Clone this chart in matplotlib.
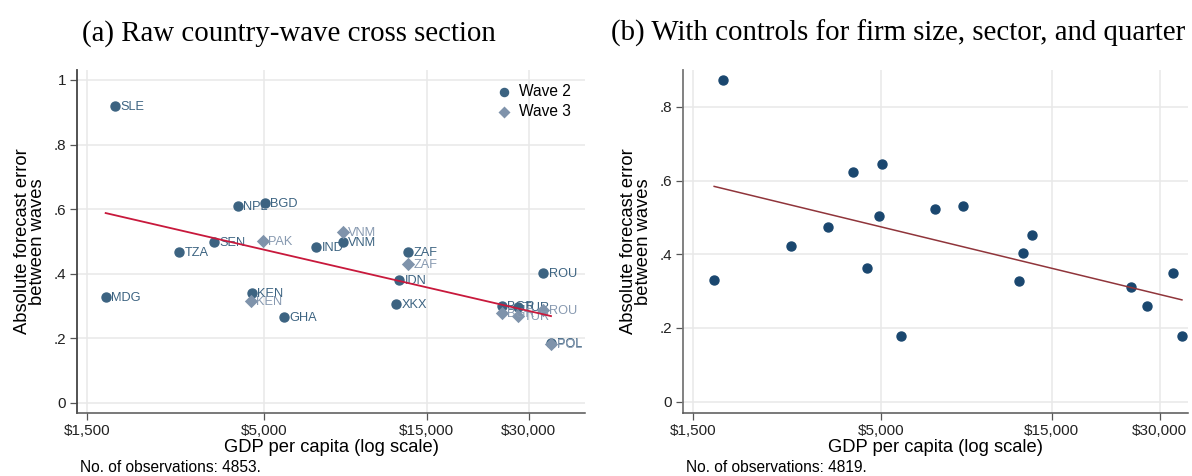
import numpy as np
import matplotlib.pyplot as plt
from matplotlib.ticker import FixedLocator, NullLocator

# wave 2 country-wave means
countries_w2 = ["SLE", "MDG", "TZA", "SEN", "NPL", "BGD", "KEN", "GHA", "IND",
                "VNM", "ZAF", "IDN", "XKX", "BGR", "TUR", "ROU", "POL"]
gdp_w2 = [1814, 1706, 2799, 3546, 4176, 5014, 4591, 5703, 7087,
          8510, 13215, 12433, 12186, 24995, 27870, 33030, 34860]
err_w2 = [0.919, 0.328, 0.467, 0.498, 0.610, 0.619, 0.341, 0.266, 0.483,
          0.498, 0.467, 0.381, 0.306, 0.300, 0.297, 0.402, 0.186]

# wave 3 country-wave means
countries_w3 = ["PAK", "KEN", "VNM", "ZAF", "BGR", "TUR", "ROU", "POL"]
gdp_w3 = [4945, 4560, 8510, 13215, 24995, 27870, 33030, 34860]
err_w3 = [0.502, 0.316, 0.529, 0.430, 0.279, 0.269, 0.288, 0.183]

# country means net of firm size, sector and quarter
gdp_b = [1716, 1819, 2814, 3567, 4189, 5046, 4950, 4584, 5700,
         7090, 8490, 13215, 12473, 12154, 24930, 27645, 32680, 34610]
err_b = [0.330, 0.873, 0.422, 0.473, 0.624, 0.646, 0.503, 0.362, 0.178,
         0.522, 0.532, 0.451, 0.403, 0.327, 0.311, 0.259, 0.349, 0.178]

# linear fits on log GDP, evaluated at the ends of the data
fit_a_x = [1706, 34860]
fit_a_y = [0.588, 0.269]
fit_b_x = [1716, 34610]
fit_b_y = [0.584, 0.276]

xticks = [1500, 5000, 15000, 30000]
xticklabels = ["$1,500", "$5,000", "$15,000", "$30,000"]
yticks_a = [0, 0.2, 0.4, 0.6, 0.8, 1.0]
yticklabels_a = ["0", ".2", ".4", ".6", ".8", "1"]
yticks_b = [0, 0.2, 0.4, 0.6, 0.8]
yticklabels_b = ["0", ".2", ".4", ".6", ".8"]

c_w2 = "#3c6381"
c_w3 = "#7f93ab"
c_w3_txt = "#8799b0"
c_b = "#1a476f"

plt.rcParams['font.family'] = ['Liberation Sans', 'DejaVu Sans']


def style_axes(ax, xmax, ymax, yticks, yticklabels, spine_col):
    ax.set_xscale("log")
    ax.set_xlim(1405, xmax)
    ax.set_ylim(-0.031, ymax)
    ax.xaxis.set_major_locator(FixedLocator(xticks))
    ax.xaxis.set_minor_locator(NullLocator())
    ax.set_xticklabels(xticklabels)
    ax.set_yticks(yticks)
    ax.set_yticklabels(yticklabels)
    ax.grid(True, color="#e8e8e8", linewidth=1.1, zorder=0)
    ax.set_axisbelow(True)
    for s in ["top", "right"]:
        ax.spines[s].set_visible(False)
    ax.spines["left"].set_color(spine_col)
    ax.spines["bottom"].set_color("#555555")
    ax.spines["left"].set_linewidth(1.3)
    ax.spines["bottom"].set_linewidth(1.1)
    ax.tick_params(axis="both", length=5, width=0.9, color="#555555",
                   labelsize=11, labelcolor="#222222", pad=3)
    ax.set_xlabel("GDP per capita (log scale)", fontsize=13.2, labelpad=1)
    ax.set_ylabel("Absolute forecast error\nbetween waves", fontsize=13.2,
                  linespacing=0.9, labelpad=5)


fig = plt.figure(figsize=(11.92, 4.76), dpi=100)
ax1 = fig.add_axes([0.0646, 0.1324, 0.4262, 0.7206])
ax2 = fig.add_axes([0.5730, 0.1324, 0.4236, 0.7206])

# (a) raw country-wave cross section
ax1.scatter(gdp_w2, err_w2, s=42, marker="o", color=c_w2, zorder=3, label="Wave 2")
for name, x, y in zip(countries_w2, gdp_w2, err_w2):
    ax1.annotate(name, (x, y), xytext=(4, -0.5), textcoords="offset points",
                 va="center", ha="left", fontsize=9.2, color=c_w2, zorder=3)
ax1.scatter(gdp_w3, err_w3, s=46, marker="D", color=c_w3, zorder=4, label="Wave 3",
            linewidths=0)
for name, x, y in zip(countries_w3, gdp_w3, err_w3):
    ax1.annotate(name, (x, y), xytext=(4, -0.5), textcoords="offset points",
                 va="center", ha="left", fontsize=9.2, color=c_w3_txt, zorder=4)
ax1.plot(fit_a_x, fit_a_y, color="#c8193c", linewidth=1.3, zorder=5)
style_axes(ax1, 43900, 1.031, yticks_a, yticklabels_a, "#444444")
ax1.legend(loc="upper right", bbox_to_anchor=(1.0, 1.0), frameon=False,
           fontsize=11.2, handlelength=1.0, handletextpad=0.45, labelspacing=0.35,
           borderaxespad=0.5, markerscale=0.9)
ax1.text(0.005, -0.160, "No. of observations: 4853.", transform=ax1.transAxes,
         fontsize=11.2, ha="left", va="center")

# (b) with controls
ax2.scatter(gdp_b, err_b, s=42, marker="o", color=c_b, zorder=3)
ax2.plot(fit_b_x, fit_b_y, color="#90353b", linewidth=1.1, zorder=4)
style_axes(ax2, 35970, 0.90, yticks_b, yticklabels_b, "#777777")
ax2.text(0.005, -0.160, "No. of observations: 4819.", transform=ax2.transAxes,
         fontsize=11.2, ha="left", va="center")

# panel titles
fig.text(0.2424, 0.914, "(a) Raw country-wave cross section",
         family="Liberation Serif", fontsize=20.8, ha="center", va="baseline")
fig.text(0.7534, 0.914, "(b) With controls for firm size, sector, and quarter",
         family="Liberation Serif", fontsize=20.8, ha="center", va="baseline")

fig.savefig("out.png", dpi=100)
